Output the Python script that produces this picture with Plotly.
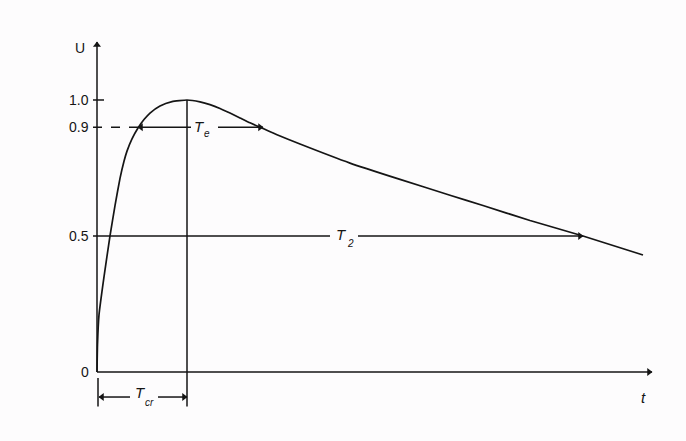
import plotly.graph_objects as go

# Impulse voltage waveform U(t), normalised to peak = 1.0 (t in arbitrary time units)
t_curve = [0.0, 0.05, 0.2, 0.7, 1.3, 1.8, 2.3, 2.7, 3.0, 3.5, 4.1, 4.7, 5.3, 6.3, 7.5, 9.0,
           10.3, 11.3, 12.3, 13.3, 14.3, 15.3, 16.6, 18.0, 20.3, 25.3, 30.3, 35.3, 38.6,
           43.3, 48.6, 54.6]
u_curve = [0.0, 0.10, 0.21, 0.35, 0.50, 0.612, 0.712, 0.775, 0.812, 0.857, 0.897, 0.928,
           0.952, 0.978, 0.994, 1.0, 0.993, 0.983, 0.969, 0.952, 0.934, 0.916, 0.895, 0.872,
           0.838, 0.768, 0.708, 0.650, 0.612, 0.557, 0.50, 0.43]

# Characteristic times
t_cr = 9.0          # time to crest
te_start = 4.1      # first crossing of 0.9
te_end = 16.6       # second crossing of 0.9
t_2 = 48.6          # time to half value on the tail

tick_vals = [1.0, 0.9, 0.5, 0.0]
tick_text = ["1.0", "0.9", "0.5", "0"]

t_axis_end = 55.5
u_axis_end = 1.213
dim_level = -0.092  # level of the T_cr dimension line

INK = "#151515"
FONT = "Liberation Sans, Arial, sans-serif"

fig = go.Figure()
fig.add_trace(go.Scatter(x=t_curve, y=u_curve, mode="lines",
                         line=dict(color=INK, width=1.7, shape="spline", smoothing=0.4),
                         hoverinfo="skip", showlegend=False))

shapes = []
annotations = []
heads = {"triangle-left": ([], []), "triangle-right": ([], []), "triangle-up": ([], [])}

def seg(x0, y0, x1, y1, dash="solid", width=1.5):
    shapes.append(dict(type="line", xref="x", yref="y", x0=x0, y0=y0, x1=x1, y1=y1,
                       line=dict(color=INK, width=width, dash=dash)))

def arrow(x_head, y_head, x_tail, y_tail):
    """Straight line from tail to head with a triangular head (horizontal or vertical)."""
    seg(x_tail, y_tail, x_head, y_head)
    if y_head == y_tail:
        sym = "triangle-right" if x_head > x_tail else "triangle-left"
        off = -0.3 if x_head > x_tail else 0.3
        heads[sym][0].append(x_head + off)
        heads[sym][1].append(y_head)
    else:
        heads["triangle-up"][0].append(x_head)
        heads["triangle-up"][1].append(y_head - 0.011)

def label(x, y, text, size=13, anchor="center", italic=False):
    annotations.append(dict(x=x, y=y, xref="x", yref="y", text=text, showarrow=False,
                            xanchor=anchor, yanchor="middle",
                            font=dict(family=FONT, size=size, color=INK,
                                      style="italic" if italic else "normal")))

def symbol(x, y, main, sub, sub_dx, sub_dy):
    """Italic symbol with a smaller subscript placed below-right of it."""
    label(x, y, main, size=15, italic=True)
    label(x + sub_dx, y + sub_dy, sub, size=10, italic=True)

# Axes
arrow(0, u_axis_end, 0, 0)
arrow(t_axis_end, 0, 0, 0)
label(-1.7, 1.191, "U", size=14)
label(54.6, -0.092, "t", size=15, italic=True)

# Tick labels and marks
for v, s in zip(tick_vals, tick_text):
    label(-0.6, v, s, size=14, anchor="right")
seg(-0.4, 1.0, 0.7, 1.0)

# Vertical line through the crest, down to the T_cr dimension line
seg(t_cr, 1.0, t_cr, dim_level - 0.035)

# 0.9 level and T_e dimension
seg(-0.4, 0.9, te_start, 0.9, dash="dash")
arrow(te_start, 0.9, 9.4, 0.9)
symbol(10.2, 0.904, "T", "e", 0.75, -0.026)
arrow(te_end, 0.9, 12.1, 0.9)

# 0.5 level and T_2 dimension
seg(-0.4, 0.5, 23.3, 0.5)
symbol(24.4, 0.504, "T", "2", 0.9, -0.03)
arrow(t_2, 0.5, 26.1, 0.5)

# T_cr dimension below the time axis
seg(0.1, -0.022, 0.1, dim_level - 0.035)
arrow(0.2, dim_level, 3.3, dim_level)
symbol(4.3, -0.077, "T", "cr", 0.95, -0.036)
arrow(t_cr, dim_level, 6.1, dim_level)

for sym, (xs, ys) in heads.items():
    fig.add_trace(go.Scatter(x=xs, y=ys, mode="markers",
                             marker=dict(symbol=sym, size=7, color=INK, line=dict(width=0)),
                             hoverinfo="skip", showlegend=False))

fig.update_layout(
    width=686, height=441,
    margin=dict(l=0, r=0, t=0, b=0),
    paper_bgcolor="#fdfcfd", plot_bgcolor="#fdfcfd",
    xaxis=dict(range=[-9.7, 58.9], visible=False, fixedrange=True),
    yaxis=dict(range=[-0.2537, 1.3676], visible=False, fixedrange=True),
    shapes=shapes, annotations=annotations,
)

fig.write_html("out.html")
